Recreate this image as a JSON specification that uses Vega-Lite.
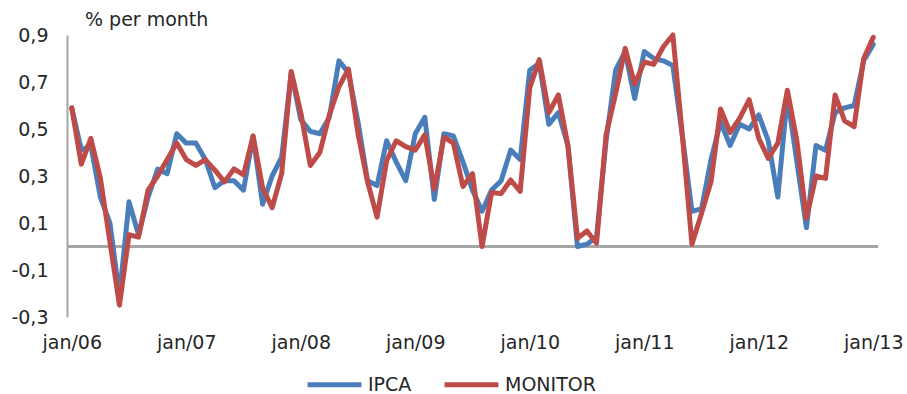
{
  "$schema": "https://vega.github.io/schema/vega-lite/v6.json",
  "autosize": "none",
  "width": 811,
  "height": 282,
  "padding": {"left": 67, "top": 35, "right": 29, "bottom": 77},
  "background": "white",
  "config": {
    "view": {"stroke": null},
    "font": "DejaVu Sans",
    "axis": {"labelFont": "DejaVu Sans", "labelFontSize": 19, "labelColor": "#262626"},
    "legend": {"labelFont": "DejaVu Sans", "labelFontSize": 19, "labelColor": "#262626"}
  },
  "title": {
    "text": "% per month",
    "anchor": "start",
    "frame": "group",
    "dx": 18,
    "offset": -4,
    "fontSize": 19,
    "fontWeight": "normal",
    "color": "#262626"
  },
  "data": {
    "values": [
      {"month": "2006-01", "IPCA": 0.59, "MONITOR": 0.59},
      {"month": "2006-02", "IPCA": 0.41, "MONITOR": 0.35},
      {"month": "2006-03", "IPCA": 0.43, "MONITOR": 0.46},
      {"month": "2006-04", "IPCA": 0.21, "MONITOR": 0.29},
      {"month": "2006-05", "IPCA": 0.10, "MONITOR": 0.02},
      {"month": "2006-06", "IPCA": -0.21, "MONITOR": -0.25},
      {"month": "2006-07", "IPCA": 0.19, "MONITOR": 0.05},
      {"month": "2006-08", "IPCA": 0.05, "MONITOR": 0.04},
      {"month": "2006-09", "IPCA": 0.21, "MONITOR": 0.24},
      {"month": "2006-10", "IPCA": 0.33, "MONITOR": 0.30},
      {"month": "2006-11", "IPCA": 0.31, "MONITOR": 0.37},
      {"month": "2006-12", "IPCA": 0.48, "MONITOR": 0.44},
      {"month": "2007-01", "IPCA": 0.44, "MONITOR": 0.37},
      {"month": "2007-02", "IPCA": 0.44, "MONITOR": 0.345},
      {"month": "2007-03", "IPCA": 0.37, "MONITOR": 0.37},
      {"month": "2007-04", "IPCA": 0.25, "MONITOR": 0.325},
      {"month": "2007-05", "IPCA": 0.28, "MONITOR": 0.275},
      {"month": "2007-06", "IPCA": 0.28, "MONITOR": 0.33},
      {"month": "2007-07", "IPCA": 0.24, "MONITOR": 0.305},
      {"month": "2007-08", "IPCA": 0.47, "MONITOR": 0.47},
      {"month": "2007-09", "IPCA": 0.18, "MONITOR": 0.25},
      {"month": "2007-10", "IPCA": 0.30, "MONITOR": 0.165},
      {"month": "2007-11", "IPCA": 0.38, "MONITOR": 0.31},
      {"month": "2007-12", "IPCA": 0.74, "MONITOR": 0.745},
      {"month": "2008-01", "IPCA": 0.54, "MONITOR": 0.57},
      {"month": "2008-02", "IPCA": 0.49, "MONITOR": 0.345},
      {"month": "2008-03", "IPCA": 0.48, "MONITOR": 0.40},
      {"month": "2008-04", "IPCA": 0.55, "MONITOR": 0.56},
      {"month": "2008-05", "IPCA": 0.79, "MONITOR": 0.68},
      {"month": "2008-06", "IPCA": 0.74, "MONITOR": 0.755},
      {"month": "2008-07", "IPCA": 0.53, "MONITOR": 0.48},
      {"month": "2008-08", "IPCA": 0.28, "MONITOR": 0.275},
      {"month": "2008-09", "IPCA": 0.26, "MONITOR": 0.125},
      {"month": "2008-10", "IPCA": 0.45, "MONITOR": 0.365},
      {"month": "2008-11", "IPCA": 0.36, "MONITOR": 0.45},
      {"month": "2008-12", "IPCA": 0.28, "MONITOR": 0.425},
      {"month": "2009-01", "IPCA": 0.48, "MONITOR": 0.41},
      {"month": "2009-02", "IPCA": 0.55, "MONITOR": 0.475},
      {"month": "2009-03", "IPCA": 0.20, "MONITOR": 0.245},
      {"month": "2009-04", "IPCA": 0.48, "MONITOR": 0.465},
      {"month": "2009-05", "IPCA": 0.47, "MONITOR": 0.44},
      {"month": "2009-06", "IPCA": 0.36, "MONITOR": 0.255},
      {"month": "2009-07", "IPCA": 0.24, "MONITOR": 0.31},
      {"month": "2009-08", "IPCA": 0.15, "MONITOR": 0.0},
      {"month": "2009-09", "IPCA": 0.24, "MONITOR": 0.23},
      {"month": "2009-10", "IPCA": 0.28, "MONITOR": 0.225},
      {"month": "2009-11", "IPCA": 0.41, "MONITOR": 0.283},
      {"month": "2009-12", "IPCA": 0.37, "MONITOR": 0.235},
      {"month": "2010-01", "IPCA": 0.75, "MONITOR": 0.675},
      {"month": "2010-02", "IPCA": 0.78, "MONITOR": 0.795},
      {"month": "2010-03", "IPCA": 0.52, "MONITOR": 0.57},
      {"month": "2010-04", "IPCA": 0.57, "MONITOR": 0.645},
      {"month": "2010-05", "IPCA": 0.43, "MONITOR": 0.43},
      {"month": "2010-06", "IPCA": 0.00, "MONITOR": 0.035},
      {"month": "2010-07", "IPCA": 0.01, "MONITOR": 0.066},
      {"month": "2010-08", "IPCA": 0.04, "MONITOR": 0.014},
      {"month": "2010-09", "IPCA": 0.45, "MONITOR": 0.475},
      {"month": "2010-10", "IPCA": 0.75, "MONITOR": 0.65},
      {"month": "2010-11", "IPCA": 0.83, "MONITOR": 0.843},
      {"month": "2010-12", "IPCA": 0.63, "MONITOR": 0.69},
      {"month": "2011-01", "IPCA": 0.83, "MONITOR": 0.785},
      {"month": "2011-02", "IPCA": 0.80, "MONITOR": 0.775},
      {"month": "2011-03", "IPCA": 0.79, "MONITOR": 0.85},
      {"month": "2011-04", "IPCA": 0.77, "MONITOR": 0.90},
      {"month": "2011-05", "IPCA": 0.47, "MONITOR": 0.47},
      {"month": "2011-06", "IPCA": 0.15, "MONITOR": 0.01},
      {"month": "2011-07", "IPCA": 0.16, "MONITOR": 0.14},
      {"month": "2011-08", "IPCA": 0.37, "MONITOR": 0.276},
      {"month": "2011-09", "IPCA": 0.53, "MONITOR": 0.585},
      {"month": "2011-10", "IPCA": 0.43, "MONITOR": 0.485},
      {"month": "2011-11", "IPCA": 0.52, "MONITOR": 0.545},
      {"month": "2011-12", "IPCA": 0.50, "MONITOR": 0.625},
      {"month": "2012-01", "IPCA": 0.56, "MONITOR": 0.46},
      {"month": "2012-02", "IPCA": 0.45, "MONITOR": 0.375},
      {"month": "2012-03", "IPCA": 0.21, "MONITOR": 0.44},
      {"month": "2012-04", "IPCA": 0.64, "MONITOR": 0.665},
      {"month": "2012-05", "IPCA": 0.36, "MONITOR": 0.45},
      {"month": "2012-06", "IPCA": 0.08, "MONITOR": 0.12},
      {"month": "2012-07", "IPCA": 0.43, "MONITOR": 0.30},
      {"month": "2012-08", "IPCA": 0.41, "MONITOR": 0.29},
      {"month": "2012-09", "IPCA": 0.57, "MONITOR": 0.645},
      {"month": "2012-10", "IPCA": 0.59, "MONITOR": 0.535},
      {"month": "2012-11", "IPCA": 0.60, "MONITOR": 0.51},
      {"month": "2012-12", "IPCA": 0.79, "MONITOR": 0.80},
      {"month": "2013-01", "IPCA": 0.86, "MONITOR": 0.89}
    ]
  },
  "encoding": {
    "x": {
      "field": "month",
      "type": "ordinal",
      "scale": {"type": "point", "padding": 0.5},
      "axis": {
        "title": null,
        "values": ["2006-01", "2007-01", "2008-01", "2009-01", "2010-01", "2011-01", "2012-01", "2013-01"],
        "labelExpr": "'jan/' + substring(datum.value, 2, 4)",
        "labelAngle": 0,
        "domain": false,
        "ticks": false,
        "labelPadding": 16
      }
    }
  },
  "layer": [
    {
      "mark": {"type": "rule", "color": "#A6A6A6", "strokeWidth": 2},
      "encoding": {
        "y": {"datum": 0, "type": "quantitative"},
        "x": null
      }
    },
    {
      "transform": [{"fold": ["IPCA", "MONITOR"], "as": ["series", "value"]}],
      "mark": {"type": "line", "strokeWidth": 5, "strokeJoin": "round", "strokeCap": "round"},
      "encoding": {
        "y": {
          "field": "value",
          "type": "quantitative",
          "scale": {"domain": [-0.3, 0.9], "nice": false, "zero": false},
          "axis": {
            "title": null,
            "values": [-0.3, -0.1, 0.1, 0.3, 0.5, 0.7, 0.9],
            "labelExpr": "replace(replace(format(datum.value, '.1f'), '.', ','), '\u2212', '-')",
            "grid": false,
            "ticks": false,
            "domainColor": "#A6A6A6",
            "domainWidth": 2,
            "labelPadding": 19
          }
        },
        "color": {
          "field": "series",
          "type": "nominal",
          "scale": {"domain": ["IPCA", "MONITOR"], "range": ["#4A7EBB", "#BE4B48"]},
          "legend": {
            "title": null,
            "orient": "none",
            "direction": "horizontal",
            "legendX": 238,
            "legendY": 320,
            "symbolType": "stroke",
            "symbolSize": 2900,
            "symbolStrokeWidth": 5,
            "labelOffset": 4,
            "columnPadding": 22
          }
        }
      }
    }
  ]
}
